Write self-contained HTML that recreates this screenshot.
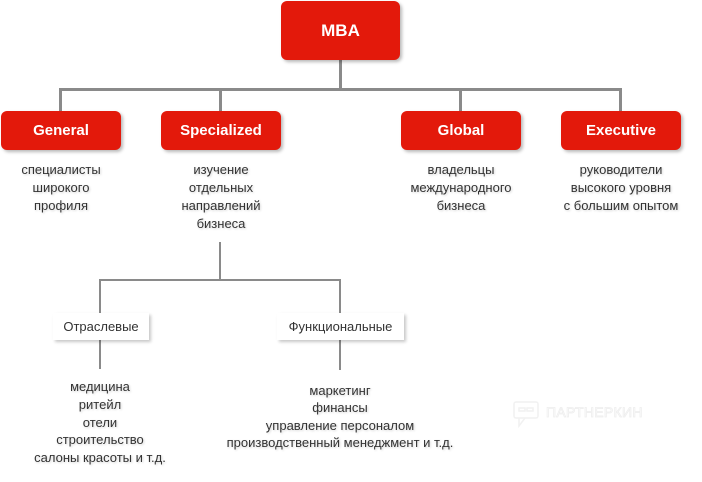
<!DOCTYPE html>
<html>
<head>
<meta charset="utf-8">
<style>
  html,body{margin:0;padding:0;background:#fff;}
  body{width:702px;height:482px;position:relative;overflow:hidden;font-family:"Liberation Sans",Arial,sans-serif;}
  .red{position:absolute;background:#e3190b;border-radius:6px;color:#fff;font-weight:bold;display:flex;align-items:center;justify-content:center;box-shadow:2px 2px 3px rgba(0,0,0,0.28);}
  .lvl1{width:120px;height:39px;top:111px;font-size:15px;}
  .wbox{position:absolute;background:#fff;height:27px;top:313px;display:flex;align-items:center;justify-content:center;font-size:13px;color:#333;box-shadow:2px 2px 3px rgba(0,0,0,0.22);}
  .txt{position:absolute;text-align:center;font-size:13px;line-height:18px;color:#333;text-shadow:1px 1px 2px rgba(0,0,0,0.18);white-space:nowrap;}
  svg{position:absolute;left:0;top:0;}
</style>
</head>
<body>
<svg width="702" height="482" viewBox="0 0 702 482">
  <g stroke="#8a8a8a" fill="none" stroke-linecap="butt">
    <line x1="340.5" y1="60" x2="340.5" y2="90" stroke-width="3"/>
    <line x1="59" y1="89.5" x2="622" y2="89.5" stroke-width="3"/>
    <line x1="60.5" y1="88" x2="60.5" y2="111" stroke-width="3"/>
    <line x1="220.5" y1="88" x2="220.5" y2="111" stroke-width="3"/>
    <line x1="460.5" y1="88" x2="460.5" y2="111" stroke-width="3"/>
    <line x1="620.5" y1="88" x2="620.5" y2="111" stroke-width="3"/>
    <line x1="220" y1="242" x2="220" y2="281" stroke-width="2"/>
    <line x1="99" y1="280" x2="341" y2="280" stroke-width="2"/>
    <line x1="100" y1="279" x2="100" y2="313" stroke-width="2"/>
    <line x1="340" y1="279" x2="340" y2="313" stroke-width="2"/>
    <line x1="100" y1="340" x2="100" y2="369" stroke-width="2"/>
    <line x1="340" y1="340" x2="340" y2="370" stroke-width="2"/>
  </g>
  <!-- watermark -->
  <g stroke="#f1f1f1" fill="none" stroke-width="1.5">
    <rect x="514" y="402" width="24" height="16" rx="2"/>
    <path d="M519 418 L519 426 L525 418"/>
    <rect x="519" y="408" width="6" height="3"/>
    <rect x="527" y="408" width="6" height="3"/>
  </g>
  <text x="546" y="417" font-family="Liberation Sans, sans-serif" font-size="14" fill="#fff" stroke="#eeeeee" stroke-width="0.8" letter-spacing="0.3">ПАРТНЕРКИН</text>
</svg>

<div class="red" style="left:281px;top:1px;width:119px;height:59px;font-size:17px;">MBA</div>

<div class="red lvl1" style="left:1px;">General</div>
<div class="red lvl1" style="left:161px;">Specialized</div>
<div class="red lvl1" style="left:401px;">Global</div>
<div class="red lvl1" style="left:561px;">Executive</div>

<div class="txt" style="left:1px;width:120px;top:161px;">специалисты<br>широкого<br>профиля</div>
<div class="txt" style="left:161px;width:120px;top:161px;">изучение<br>отдельных<br>направлений<br>бизнеса</div>
<div class="txt" style="left:401px;width:120px;top:161px;">владельцы<br>международного<br>бизнеса</div>
<div class="txt" style="left:551px;width:140px;top:161px;">руководители<br>высокого уровня<br>с большим опытом</div>

<div class="wbox" style="left:53px;width:96px;">Отраслевые</div>
<div class="wbox" style="left:277px;width:127px;">Функциональные</div>

<div class="txt" style="left:20px;width:160px;top:378px;line-height:17.75px;">медицина<br>ритейл<br>отели<br>строительство<br>салоны красоты и т.д.</div>
<div class="txt" style="left:210px;width:260px;top:382px;line-height:17.4px;">маркетинг<br>финансы<br>управление персоналом<br>производственный менеджмент и т.д.</div>
</body>
</html>
